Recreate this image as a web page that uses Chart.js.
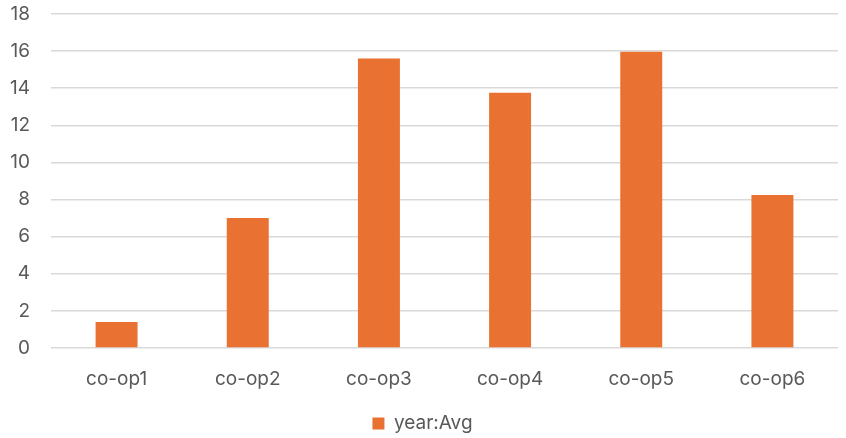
<!DOCTYPE html>
<html lang="en">
<head>
    <meta charset="UTF-8">
    <title>year:Avg</title>
    <style type="text/css">
        body{
            margin: 0;
            background: #ffffff;
        }
        .chartbox{
            width: 846px;
            height: 438px;
        }
    </style>
    <script src="https://cdn.jsdelivr.net/npm/chart.js@4.4.0/dist/chart.umd.min.js"></script>
</head>
<body>
    <div class="chartbox">
        <canvas id="myChart"></canvas>
    </div>

    <script>
    // data
    const categories = ['co-op1', 'co-op2', 'co-op3', 'co-op4', 'co-op5', 'co-op6'];
    const avgValues = [1.4, 7.0, 15.6, 13.75, 15.97, 8.24];
    const seriesName = 'year:Avg';

    const textColor = '#595959';
    const fontFamily = 'Inter, "Noto Sans", sans-serif';

    //setup block
    const data = {
        labels: categories,
        datasets: [{
            label: seriesName,
            data: avgValues,
            backgroundColor: '#E97132',
            borderWidth: 0,
            barPercentage: 0.5,
            categoryPercentage: 0.64
        }]
    };

    //config block
    const config = {
        type: 'bar',
        data,
        options: {
            responsive: true,
            maintainAspectRatio: false,
            animation: false,
            layout: {
                // legend sits a little lower than chart.js would put it
                padding: { top: 14, right: 8, left: 7, bottom: -5 }
            },
            plugins: {
                legend: {
                    position: 'bottom',
                    labels: {
                        color: textColor,
                        boxWidth: 12,
                        boxHeight: 12,
                        padding: 4,
                        font: { family: fontFamily, size: 19 }
                    }
                },
                tooltip: { enabled: false }
            },
            scales: {
                x: {
                    grid: { display: false, drawTicks: false },
                    border: { display: false },
                    ticks: {
                        color: textColor,
                        padding: 20,
                        maxRotation: 0,
                        font: { family: fontFamily, size: 19 }
                    },
                    // fixed room for the labels and the gap before the legend
                    afterFit: function(scale) {
                        scale.paddingLeft = 0;
                        scale.paddingRight = 0;
                        scale.height = 62;
                    }
                },
                y: {
                    min: 0,
                    max: 18,
                    grid: { color: '#d9d9d9', lineWidth: 1.5, drawTicks: false },
                    border: { display: false },
                    ticks: {
                        stepSize: 2,
                        color: textColor,
                        padding: 21,
                        font: { family: fontFamily, size: 19 }
                    },
                    // keep the top grid line at the layout edge
                    afterFit: function(scale) {
                        scale.paddingTop = 0;
                        scale.paddingBottom = 0;
                        scale.width = 44;
                    }
                }
            }
        }
    };

    //render init block
    const myChart = new Chart(
        document.getElementById('myChart'),
        config
    );
    </script>
</body>
</html>
